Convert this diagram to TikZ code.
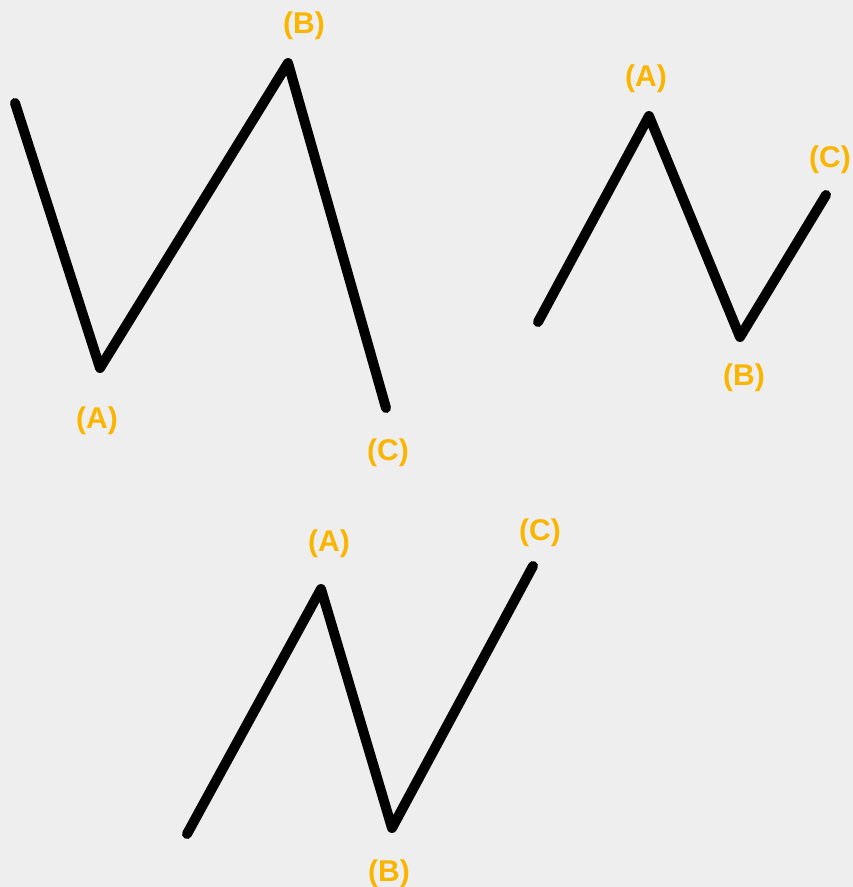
\documentclass[tikz,border=0pt]{standalone}
\usepackage{fontspec}
\setmainfont{Liberation Sans}
\definecolor{bg}{HTML}{EEEEEE}
\definecolor{lab}{HTML}{F9B500}
\begin{document}
\begin{tikzpicture}[x=1pt,y=-1pt,
  wave/.style={line width=10pt,line cap=round,line join=round,black},
  lbl/.style={text=lab,font=\fontsize{30}{32}\selectfont\bfseries,inner sep=0pt}]
\fill[bg] (0,0) rectangle (853,887);
\useasboundingbox (0,0) rectangle (853,887);
% top-left
\coordinate (a0) at (15,103);
\coordinate (a1) at (100,368);
\coordinate (a2) at (288,63);
\coordinate (a3) at (386,408);
\draw[wave] (a0) -- (a1) -- (a2) -- (a3);
\node[lbl] (la1) at (97,421) {(A)};
\node[lbl] (la2) at (304,26) {(B)};
\node[lbl] (la3) at (388,453) {(C)};
% top-right
\coordinate (b0) at (538,322);
\coordinate (b1) at (649,116);
\coordinate (b2) at (740,337);
\coordinate (b3) at (826,195);
\draw[wave] (b0) -- (b1) -- (b2) -- (b3);
\node[lbl] (lb1) at (646,79) {(A)};
\node[lbl] (lb2) at (744,378) {(B)};
\node[lbl] (lb3) at (830,160) {(C)};
% bottom
\coordinate (c0) at (187,834);
\coordinate (c1) at (321,589);
\coordinate (c2) at (392,828);
\coordinate (c3) at (533,566);
\draw[wave] (c0) -- (c1) -- (c2) -- (c3);
\node[lbl] (lc1) at (329,544) {(A)};
\node[lbl] (lc2) at (389,874) {(B)};
\node[lbl] (lc3) at (540,533) {(C)};
\end{tikzpicture}
\end{document}
